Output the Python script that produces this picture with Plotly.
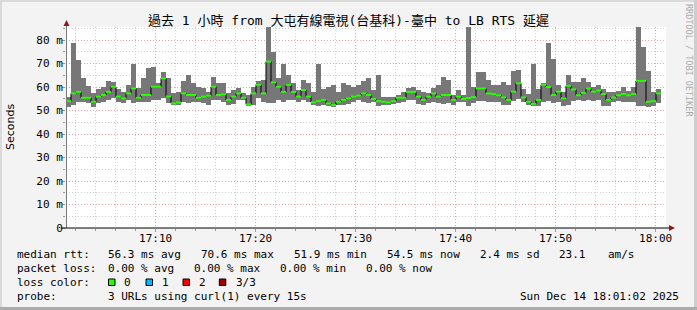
import datetime as dt
import plotly.graph_objects as go

# ---------------- data (30 s steps starting 17:01:02) ----------------
START = dt.datetime(2025, 12, 14, 17, 1, 2)
STEP_S = 30
median_ms = [54.0, 57.3, 57.9, 55.4, 55.4, 53.7, 55.9, 56.6, 57.9, 60.1,
             55.9, 55.2, 57.3, 59.4, 55.4, 56.6, 56.6, 60.1, 60.1, 63.7,
             56.0, 53.0, 53.4, 57.3, 56.6, 56.6, 55.4, 55.9, 56.3, 60.1,
             56.6, 56.9, 54.5, 55.9, 57.3, 55.4, 52.6, 57.3, 60.9, 57.3,
             70.8, 62.0, 60.1, 57.9, 60.9, 57.9, 55.9, 58.7, 55.9, 53.5,
             54.0, 54.5, 53.0, 52.3, 53.7, 54.5, 55.2, 55.9, 56.3, 57.3,
             56.6, 54.9, 54.0, 53.7, 53.5, 54.0, 55.4, 55.4, 57.9, 57.9,
             55.9, 54.5, 55.9, 57.3, 55.9, 56.6, 56.6, 54.5, 55.9, 54.9,
             55.3, 55.7, 59.4, 59.4, 57.3, 57.0, 56.5, 55.6, 54.5, 58.0,
             61.6, 55.6, 53.7, 52.8, 54.5, 60.9, 60.0, 56.6, 58.0, 55.2,
             60.5, 59.0, 56.5, 57.5, 59.4, 58.0, 58.5, 57.0, 54.5, 55.5,
             56.5, 57.0, 56.5, 57.0, 62.6, 62.6, 53.7, 54.0, 57.3]
min_ms = [51.6, 52.3, 53.7, 53.5, 53.0, 51.6, 53.0, 53.7, 54.5, 55.2,
          53.7, 53.0, 54.5, 53.0, 53.5, 53.7, 53.7, 54.5, 54.5, 55.2,
          53.0, 52.3, 52.3, 53.7, 53.0, 53.7, 53.7, 53.0, 52.3, 54.5,
          54.5, 53.7, 52.3, 52.6, 54.5, 54.5, 52.0, 52.3, 55.2, 53.7,
          53.0, 53.0, 54.5, 53.5, 54.5, 54.5, 53.5, 54.5, 53.7, 52.3,
          52.0, 52.3, 52.0, 51.6, 52.3, 52.3, 52.6, 53.5, 54.5, 53.7,
          53.0, 53.5, 52.0, 52.3, 52.3, 52.6, 53.0, 53.7, 54.5, 54.5,
          52.6, 52.3, 53.0, 53.7, 53.0, 52.6, 53.0, 52.3, 53.5, 53.5,
          52.0, 53.0, 54.0, 54.0, 53.5, 53.7, 53.5, 52.5, 52.5, 54.0,
          55.0, 53.5, 52.5, 51.8, 52.0, 53.7, 54.0, 53.0, 53.5, 52.0,
          52.5, 54.0, 54.5, 54.0, 54.5, 54.0, 54.5, 52.0, 52.0, 53.7,
          54.0, 53.5, 53.5, 53.5, 52.0, 52.0, 51.5, 52.0, 53.0]
max_ms = [55.9, 78.6, 71.5, 63.7, 60.5, 57.3, 59.1, 60.1, 62.4, 62.0,
          59.1, 57.9, 60.9, 69.7, 59.4, 63.7, 68.0, 68.6, 61.6, 66.5,
          63.7, 57.3, 57.9, 62.4, 65.1, 61.6, 60.1, 59.4, 57.9, 64.4,
          61.6, 61.6, 57.3, 58.7, 59.4, 57.3, 56.6, 60.1, 62.4, 63.0,
          86.0, 75.0, 63.7, 70.0, 65.1, 61.6, 58.7, 63.0, 61.6, 57.9,
          70.0, 59.0, 60.1, 60.9, 57.9, 61.6, 60.9, 60.1, 60.9, 62.4,
          63.7, 58.7, 65.1, 55.9, 55.9, 55.9, 56.6, 57.9, 59.4, 60.1,
          58.7, 57.9, 57.3, 59.4, 60.9, 64.4, 63.0, 56.6, 58.7, 56.6,
          86.0, 60.0, 66.5, 66.5, 63.0, 61.0, 61.0, 62.3, 61.0, 67.0,
          67.2, 59.0, 57.0, 70.0, 59.0, 61.5, 78.6, 72.0, 61.0, 58.0,
          65.0, 62.0, 62.0, 63.7, 62.0, 60.0, 61.0, 59.0, 58.0, 58.0,
          58.5, 60.0, 58.5, 60.0, 86.0, 77.0, 67.0, 58.0, 59.0]

y_tick_vals = [0, 10, 20, 30, 40, 50, 60, 70, 80]
y_tick_text = ["0", "10 m", "20 m", "30 m", "40 m", "50 m", "60 m", "70 m", "80 m"]

title_text = "過去 1 小時 from 大屯有線電視(台基科)-臺中 to LB RTS 延遲"
rtt_items = ["median rtt:", "56.3 ms avg", "70.6 ms max", "51.9 ms min",
             "54.5 ms now", "2.4 ms sd", "23.1", "am/s"]
loss_items = ["packet loss:", "0.00 % avg", "0.00 % max", "0.00 % min", "0.00 % now"]
loss_color_labels = ["0", "1", "2", "3/3"]
loss_colors = ["#26ff00", "#00b8ff", "#ff0000", "#a00000"]
probe_items = ["probe:", "3 URLs using curl(1) every 15s"]
stamp_text = "Sun Dec 14 18:01:02 2025"

# ---------------- figure ----------------
W, H = 697, 310
L, R, T, B = 66, 666, 27, 228


def px(x):
    return (x - L) / (R - L)


def py(y):
    return (B - y) / (B - T)


step = dt.timedelta(seconds=STEP_S)
t_start = [START + i * step for i in range(len(median_ms))]
t_mid = [t + step / 2 for t in t_start]
END = START + dt.timedelta(hours=1)

fig = go.Figure()

# smoke
fig.add_trace(go.Bar(
    x=t_mid, y=[hi - lo for hi, lo in zip(max_ms, min_ms)], base=min_ms,
    width=STEP_S * 1000, marker=dict(color="#777777", line=dict(width=0)),
    hoverinfo="skip"))

# black step line
fig.add_trace(go.Scatter(
    x=t_start + [t_start[-1] + step], y=median_ms + [median_ms[-1]],
    mode="lines", line=dict(shape="hv", color="#000000", width=1),
    hoverinfo="skip"))

# green horizontal median segments
gx, gy = [], []
for t, m in zip(t_start, median_ms):
    gx += [t, t + step, None]
    gy += [m, m, None]
fig.add_trace(go.Scatter(x=gx, y=gy, mode="lines",
                         line=dict(color=loss_colors[0], width=2),
                         hoverinfo="skip"))

mono = "DejaVu Sans Mono, Noto Sans CJK TC, monospace"

fig.update_layout(
    width=W, height=H,
    margin=dict(l=L, r=W - R, t=T, b=H - B, pad=0),
    paper_bgcolor="#f3f3f3", plot_bgcolor="#ffffff",
    showlegend=False, bargap=0,
    xaxis=dict(
        type="date", range=[START, END],
        tick0="2025-12-14 17:00:00", dtick=600000, tickformat="%H:%M",
        showgrid=True, gridcolor="#e8a4a4", griddash="1px,2px", gridwidth=1,
        minor=dict(dtick=120000, tick0="2025-12-14 17:00:00", showgrid=True,
                   gridcolor="#d2d2d2", griddash="1px,2px", ticks="outside",
                   ticklen=2, tickcolor="#999999"),
        ticks="outside", ticklen=3, tickcolor="#999999",
        ticklabelstandoff=-3,
        showline=False, zeroline=False,
        tickfont=dict(family=mono, size=11, color="#000000"),
    ),
    yaxis=dict(
        range=[0, 85.53], tickvals=y_tick_vals, ticktext=y_tick_text,
        showgrid=True, gridcolor="#e8a4a4", griddash="1px,2px", gridwidth=1,
        minor=dict(dtick=5, tick0=0, showgrid=True, gridcolor="#d2d2d2",
                   griddash="1px,2px", ticks="outside", ticklen=2,
                   tickcolor="#999999"),
        ticks="outside", ticklen=3, tickcolor="#999999",
        ticklabelstandoff=-3,
        showline=False, zeroline=False,
        tickfont=dict(family=mono, size=11, color="#000000"),
    ),
)

shapes = []
# frame
shapes.append(dict(type="rect", xref="paper", yref="paper", x0=px(0), x1=px(W),
                   y0=py(0), y1=py(2), fillcolor="#dadada", line=dict(width=0), layer="below"))
shapes.append(dict(type="rect", xref="paper", yref="paper", x0=px(0), x1=px(2),
                   y0=py(0), y1=py(H), fillcolor="#dadada", line=dict(width=0), layer="below"))
shapes.append(dict(type="rect", xref="paper", yref="paper", x0=px(W - 3), x1=px(W),
                   y0=py(0), y1=py(H), fillcolor="#cdcdcd", line=dict(width=0), layer="below"))
shapes.append(dict(type="rect", xref="paper", yref="paper", x0=px(0), x1=px(W),
                   y0=py(H - 3), y1=py(H), fillcolor="#ababab", line=dict(width=0), layer="below"))
# axes
shapes.append(dict(type="line", xref="paper", yref="paper", x0=px(66.5), x1=px(66.5),
                   y0=py(228), y1=py(25), line=dict(color="#7a7a7a", width=1)))
shapes.append(dict(type="path", xref="paper", yref="paper",
                   path=f"M {px(63.5)},{py(26)} L {px(66.5)},{py(20)} L {px(69.5)},{py(26)} Z",
                   fillcolor="#8b1a1a", line=dict(color="#8b1a1a", width=0)))
shapes.append(dict(type="line", xref="paper", yref="paper", x0=px(62), x1=px(669),
                   y0=py(228), y1=py(228), line=dict(color="#000000", width=1)))
shapes.append(dict(type="path", xref="paper", yref="paper",
                   path=f"M {px(669)},{py(225)} L {px(675)},{py(228)} L {px(669)},{py(231)} Z",
                   fillcolor="#8b1a1a", line=dict(color="#8b1a1a", width=0)))

annotations = []


def text(xp, yp, s, anchor="left", size=11, color="#000000", family=mono, angle=0):
    annotations.append(dict(xref="paper", yref="paper", x=px(xp), y=py(yp), text=s,
                            showarrow=False, xanchor=anchor, yanchor="middle",
                            textangle=angle, borderpad=0,
                            font=dict(family=family, size=size, color=color)))


text(348, 21, title_text, anchor="center", size=13)
text(11, 127, "Seconds", anchor="center", size=11,
     family="DejaVu Sans, sans-serif", angle=-90)
text(689, 60, "RRDTOOL / TOBI OETIKER", anchor="center", size=8.5,
     color="#ababab", angle=90)

rtt_x = [16, 107, 200, 293, 386, 479, 558, 607]
for xx, s in zip(rtt_x, rtt_items):
    text(xx, 254.3, s)
loss_x = [16, 107, 193.3, 279.3, 365]
for xx, s in zip(loss_x, loss_items):
    text(xx, 268.3, s)
text(16, 282.3, "loss color:")
box_x = [108.5, 146, 183, 219.3]
lab_x = [123.3, 160.7, 198.3, 235]
for bx, lx, c, s in zip(box_x, lab_x, loss_colors, loss_color_labels):
    shapes.append(dict(type="rect", xref="paper", yref="paper", x0=px(bx), x1=px(bx + 6.5),
                       y0=py(285.5), y1=py(279), fillcolor=c,
                       line=dict(color="#000000", width=1)))
    text(lx, 282.3, s)
text(16, 296, probe_items[0])
text(107, 296, probe_items[1])
text(680, 296, stamp_text, anchor="right")

fig.update_layout(shapes=shapes, annotations=annotations)
fig.write_html("out.html")
